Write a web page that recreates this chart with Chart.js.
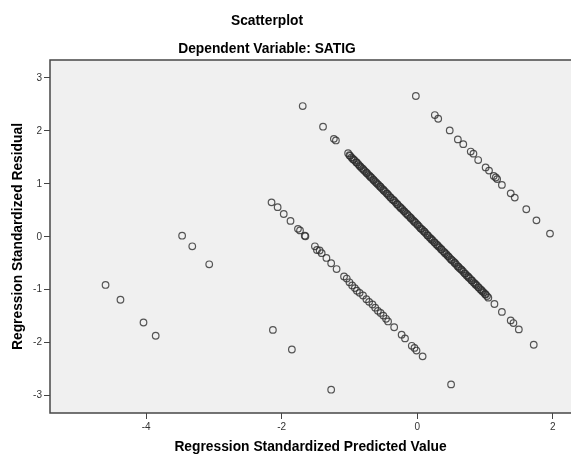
<!DOCTYPE html>
<html>
<head>
<meta charset="utf-8">
<script src="https://cdn.jsdelivr.net/npm/chart.js@4/dist/chart.umd.min.js"></script>
<style>
  html, body { margin: 0; padding: 0; background: #fff; }
</style>
</head>
<body>
<canvas id="scatter" width="571" height="456"></canvas>
<script>
// standardized predicted value (x) / standardized residual (y)
const farX = [-4.60, -4.38, -4.04, -3.86];
const farY = [-0.91, -1.19, -1.62, -1.87];

const midX = [-3.47, -3.32, -3.07, -2.13, -1.85, -1.27];
const midY = [0.02, -0.18, -0.52, -1.76, -2.13, -2.89];

const lowX = [-2.15, -2.06, -1.97, -1.87, -1.76, -1.73, -1.66, -1.65, -1.51, -1.48,
              -1.44, -1.41, -1.34, -1.27, -1.19, -1.08, -1.04, -1.00, -0.96, -0.92,
              -0.89, -0.85, -0.80, -0.75, -0.71, -0.66, -0.62, -0.58, -0.54, -0.50,
              -0.46, -0.43, -0.34, -0.23, -0.18, -0.08, -0.04, -0.01, 0.08, 0.50];
const lowY = [0.65, 0.56, 0.43, 0.30, 0.15, 0.12, 0.02, 0.01, -0.18, -0.25,
              -0.26, -0.31, -0.40, -0.50, -0.61, -0.75, -0.79, -0.86, -0.92, -0.97,
              -1.02, -1.06, -1.11, -1.18, -1.23, -1.28, -1.34, -1.40, -1.44, -1.49,
              -1.55, -1.60, -1.71, -1.85, -1.92, -2.06, -2.10, -2.15, -2.26, -2.79];

const mainX = [-1.69, -1.39, -1.23, -1.20, -1.02,
               -1.00, -0.97, -0.95, -0.92, -0.90, -0.87, -0.85, -0.82, -0.80, -0.77,
               -0.75, -0.72, -0.70, -0.67, -0.65, -0.62, -0.60, -0.57, -0.55, -0.52,
               -0.50, -0.47, -0.45, -0.42, -0.40, -0.37, -0.35, -0.32, -0.30, -0.27,
               -0.25, -0.22, -0.20, -0.17, -0.15, -0.12, -0.10, -0.07, -0.05, -0.02,
               0.00, 0.03, 0.05, 0.08, 0.10, 0.13, 0.15, 0.18, 0.20, 0.23,
               0.25, 0.28, 0.30, 0.33, 0.35, 0.38, 0.40, 0.43, 0.45, 0.48,
               0.50, 0.53, 0.55, 0.58, 0.60, 0.63, 0.65, 0.68, 0.70, 0.73,
               0.75, 0.78, 0.80, 0.83, 0.85, 0.88, 0.90, 0.93, 0.95, 0.98,
               1.00, 1.03, 1.05,
               1.14, 1.25, 1.38, 1.42, 1.50, 1.72];
const mainY = [2.47, 2.08, 1.85, 1.82, 1.58,
               1.54, 1.50, 1.47, 1.44, 1.41, 1.37, 1.34, 1.30, 1.28, 1.24,
               1.21, 1.17, 1.15, 1.11, 1.08, 1.04, 1.02, 0.98, 0.95, 0.91,
               0.89, 0.85, 0.82, 0.78, 0.75, 0.71, 0.69, 0.65, 0.62, 0.58,
               0.56, 0.52, 0.49, 0.45, 0.43, 0.39, 0.36, 0.32, 0.30, 0.26,
               0.23, 0.19, 0.16, 0.13, 0.10, 0.06, 0.03, -0.01, -0.03, -0.07,
               -0.10, -0.14, -0.16, -0.20, -0.23, -0.27, -0.29, -0.33, -0.36, -0.40,
               -0.43, -0.46, -0.49, -0.53, -0.56, -0.60, -0.62, -0.66, -0.69, -0.73,
               -0.75, -0.79, -0.82, -0.86, -0.88, -0.92, -0.95, -0.99, -1.01, -1.05,
               -1.08, -1.12, -1.15,
               -1.27, -1.42, -1.58, -1.63, -1.75, -2.04];

// more cases sitting in between on the dense middle band
const denseX = [-0.99, -0.94, -0.89, -0.84, -0.79, -0.74, -0.69, -0.64, -0.59, -0.54,
                -0.49, -0.44, -0.39, -0.34, -0.29, -0.24, -0.19, -0.14, -0.09, -0.04,
                0.01, 0.06, 0.11, 0.16, 0.21, 0.26, 0.31, 0.36, 0.41, 0.46,
                0.51, 0.56, 0.61, 0.66, 0.71, 0.76, 0.81, 0.86, 0.91, 0.96, 1.01];
const denseY = [1.53, 1.46, 1.40, 1.33, 1.26, 1.20, 1.13, 1.07, 1.00, 0.94,
                0.87, 0.81, 0.74, 0.68, 0.61, 0.54, 0.48, 0.41, 0.35, 0.28,
                0.22, 0.15, 0.09, 0.02, -0.05, -0.11, -0.18, -0.24, -0.31, -0.37,
                -0.44, -0.50, -0.57, -0.63, -0.70, -0.77, -0.83, -0.90, -0.96, -1.03, -1.09];

const topX = [-0.02, 0.26, 0.31, 0.48, 0.60, 0.68, 0.79, 0.83, 0.90, 1.01,
              1.06, 1.13, 1.16, 1.18, 1.25, 1.38, 1.44, 1.61, 1.76, 1.96];
const topY = [2.66, 2.30, 2.23, 2.01, 1.84, 1.75, 1.61, 1.57, 1.45, 1.31,
              1.25, 1.15, 1.12, 1.09, 0.98, 0.82, 0.74, 0.52, 0.31, 0.06];

const xTicks = [-4, -2, 0, 2];
const yTicks = [-3, -2, -1, 0, 1, 2, 3];

const FONT = '"Liberation Sans", Arial, sans-serif';

function toPoints(xs, ys) {
    return xs.map((x, i) => ({ x: x, y: ys[i] }));
}

function band(xs, ys) {
    return {
        data: toPoints(xs, ys),
        pointRadius: 3.3,
        pointBorderWidth: 1.2,
        pointBorderColor: 'rgba(45,45,45,0.8)',
        pointBackgroundColor: 'rgba(0,0,0,0)',
        showLine: false
    };
}

// grey plot box, its frame and the two title lines
const frame = {
    id: 'frame',
    beforeDraw(chart) {
        const { ctx, chartArea: a } = chart;
        ctx.save();
        ctx.fillStyle = '#f0f0f0';
        ctx.fillRect(a.left, a.top, chart.width - a.left, a.bottom - a.top);
        ctx.restore();
    },
    afterDraw(chart) {
        const { ctx, chartArea: a } = chart;
        ctx.save();
        ctx.strokeStyle = '#474747';
        ctx.lineWidth = 1.5;
        ctx.strokeRect(a.left, a.top, chart.width - a.left + 5, a.bottom - a.top);
        ctx.fillStyle = '#000';
        ctx.textAlign = 'center';
        ctx.textBaseline = 'middle';
        ctx.font = 'bold 13.8px ' + FONT;
        ctx.fillText('Scatterplot', 267, 21);
        ctx.fillText('Dependent Variable: SATIG', 267, 49);
        ctx.restore();
    }
};

const ctx = document.getElementById('scatter').getContext('2d');

const myChart = new Chart(ctx, {
    type: 'scatter',
    data: {
        datasets: [band(farX, farY), band(midX, midY), band(lowX, lowY),
                   band(mainX, mainY), band(denseX, denseY), band(topX, topY)]
    },
    options: {
        responsive: false,
        animation: false,
        layout: { autoPadding: false, padding: { top: 60, left: 0, right: 0, bottom: 0 } },
        plugins: { legend: { display: false }, tooltip: { enabled: false }, title: { display: false } },
        scales: {
            x: {
                type: 'linear',
                min: -5.42,
                max: 2.27,
                afterBuildTicks: s => { s.ticks = xTicks.map(v => ({ value: v })); },
                afterFit: s => { s.height = 43; },
                grid: { drawOnChartArea: false, drawTicks: true, tickLength: 6, color: '#444' },
                border: { display: false },
                ticks: { font: { family: FONT, size: 10 }, color: '#333', padding: 2, maxRotation: 0 },
                title: {
                    display: true,
                    text: 'Regression Standardized Predicted Value',
                    color: '#000',
                    font: { family: FONT, size: 13.8, weight: 'bold' },
                    padding: { top: 0, bottom: 1 }
                }
            },
            y: {
                type: 'linear',
                min: -3.33,
                max: 3.34,
                afterBuildTicks: s => { s.ticks = yTicks.map(v => ({ value: v })); },
                afterFit: s => { s.width = 50; },
                grid: { drawOnChartArea: false, drawTicks: true, tickLength: 6, color: '#444' },
                border: { display: false },
                ticks: { font: { family: FONT, size: 10 }, color: '#333', padding: 2 },
                title: {
                    display: true,
                    text: 'Regression Standardized Residual',
                    color: '#000',
                    font: { family: FONT, size: 13.8, weight: 'bold' },
                    padding: { top: 10, bottom: 0 }
                }
            }
        }
    },
    plugins: [frame]
});
</script>
</body>
</html>
